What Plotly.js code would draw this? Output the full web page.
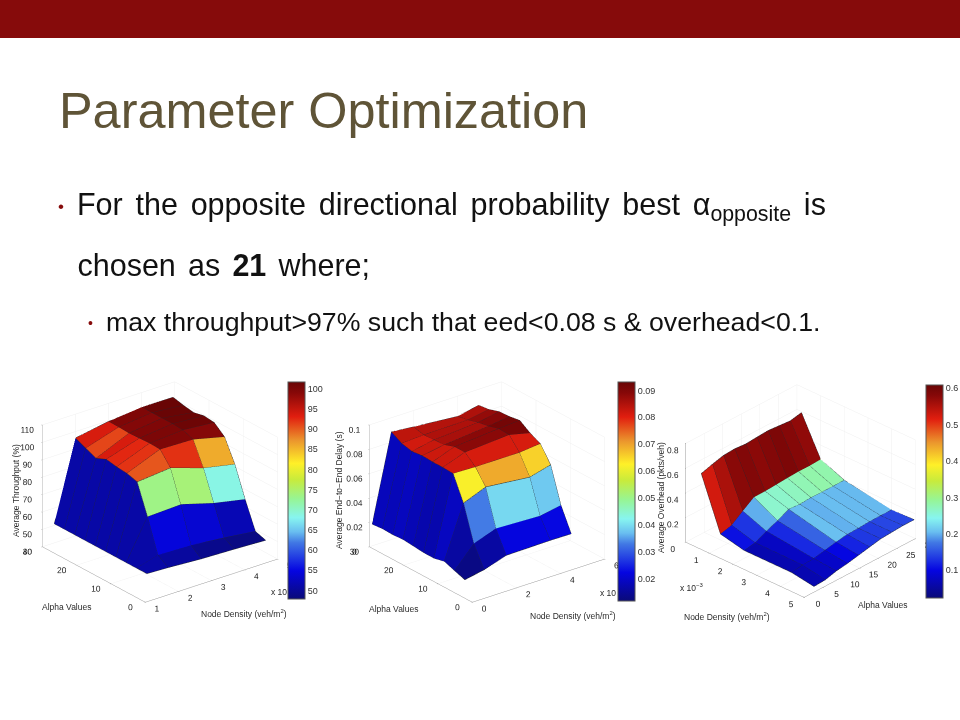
<!DOCTYPE html>
<html><head><meta charset="utf-8">
<script src="https://cdn.plot.ly/plotly-3.0.1.min.js"></script>
<style>html,body{margin:0;padding:0;background:#fff}#c{width:960px;height:720px}</style>
</head><body><div id="c"></div>
<script>
var alphaValues = [3,6,9,12,15,18,21,24,27,30];

var density1 = [1.36,2,3,4,4.95];
var throughput0 = [51,51,51,51,51,51,51,51,51,51];
var throughput1 = [50.5,54.5,73.4,90.2,91.9,92.5,93.6,91,93.6,96.3];
var throughput2 = [49.3,53.9,74.2,92,99.5,99.8,99.5,99.2,99.5,99.6];
var throughput3 = [48.7,52,68.7,85.7,99,101.2,101.6,101.6,101.6,101.6];
var throughput4 = [47.9,49.8,65,82,94.6,99.6,100.3,99,100,101.4];
var throughputRows = [throughput0,throughput1,throughput2,throughput3,throughput4];

var density2 = [0.13,1,2,4,4.95];
var delay0 = [.0131,.0161,.0192,.0172,.0172,.0181,.0189,.0183,.0186,.0178];
var delay1 = [.0162,.0331,.0618,.0815,.082,.082,.0825,.0815,.0835,.0884];
var delay2 = [.0221,.0396,.0691,.081,.0885,.0885,.0855,.085,.0845,.0866];
var delay3 = [.0226,.0381,.0654,.081,.091,.0915,.089,.0875,.085,.0834];
var delay4 = [.0224,.0413,.0699,.0827,.0869,.0927,.0913,.0908,.088,.0869];
var delayRows = [delay0,delay1,delay2,delay3,delay4];

var density3 = [0.19,1,2,4,4.95];
var overhead0 = [.525,.553,.577,.583,.575,.582,.588,.58,.572,.591];
var overhead1 = [.108,.132,.199,.263,.264,.27,.276,.281,.28,.285];
var overhead2 = [.0646,.0784,.124,.162,.207,.2,.206,.204,.204,.205];
var overhead3 = [.0652,.0763,.0821,.101,.12,.134,.137,.143,.144,.144];
var overhead4 = [.0358,.0416,.066,.08,.099,.118,.137,.143,.149,.149];
var overheadRows = [overhead0,overhead1,overhead2,overhead3,overhead4];

var jet = [[0,'rgb(10,10,120)'],[.13,'rgb(5,5,225)'],[.26,'rgb(65,120,228)'],[.31,'rgb(105,190,240)'],[.375,'rgb(135,245,240)'],[.46,'rgb(150,245,150)'],
  [.55,'rgb(200,235,60)'],[.625,'rgb(255,240,40)'],[.73,'rgb(235,150,45)'],[.84,'rgb(225,30,15)'],[.95,'rgb(135,8,8)'],[1,'rgb(105,5,5)']];

function mesh(xs, ys, rows, cmin, cmax, cb, sc, ln){
  var X=[],Y=[],Z=[],I=[],J=[],K=[],C=[],traces=[];
  var nx=xs.length, ny=ys.length;
  for(var a=0;a<nx;a++) for(var b=0;b<ny;b++){X.push(xs[a]);Y.push(ys[b]);Z.push(rows[a][b]);}
  for(a=0;a<nx-1;a++) for(b=0;b<ny-1;b++){
    var p=a*ny+b,q=p+1,r=(a+1)*ny+b,s=r+1;
    I.push(p,p);J.push(q,s);K.push(s,r);C.push(rows[a][b],rows[a][b]);
  }
  traces.push({type:'mesh3d',scene:sc,x:X,y:Y,z:Z,i:I,j:J,k:K,intensity:C,intensitymode:'cell',
    cmin:cmin,cmax:cmax,colorscale:jet,flatshading:true,hoverinfo:'skip',
    lighting:{ambient:1,diffuse:0,specular:0,roughness:1,fresnel:0},
    colorbar:cb});
  var lx=[],ly=[],lz=[];
  for(a=0;a<nx;a++){for(b=0;b<ny;b++){lx.push(xs[a]);ly.push(ys[b]);lz.push(rows[a][b]);}lx.push(null);ly.push(null);lz.push(null);}
  for(b=0;b<ny;b++){for(a=0;a<nx;a++){lx.push(xs[a]);ly.push(ys[b]);lz.push(rows[a][b]);}lx.push(null);ly.push(null);lz.push(null);}
  traces.push({type:'scatter3d',scene:sc,mode:'lines',x:lx,y:ly,z:lz,hoverinfo:'skip',showlegend:false,
    line:{color:ln,width:1}});
  return traces;
}
var tickF={family:'Liberation Sans, Arial, sans-serif',size:9,color:'#333'};
var tick3={family:'Liberation Sans, Arial, sans-serif',size:10,color:'#222'};
function cbar(px,top,bot,tv,tt){
  return {x:px/960,xanchor:'left',thickness:16.5,thicknessmode:'pixels',
    y:1-bot/720,yanchor:'bottom',len:(bot-top),lenmode:'pixels',xpad:0,ypad:0,
    tickvals:tv,ticktext:tt,ticks:'',tickfont:tickF,outlinecolor:'#555',outlinewidth:1,ticklabelposition:'outside'};
}
var data=[].concat(
 mesh(density1,alphaValues,throughputRows,47.9,101.65,cbar(288,382,599,[50,55,60,65,70,75,80,85,90,95,100],['50','55','60','65','70','75','80','85','90','95','100']),'scene','#23262e'),
 mesh(density2,alphaValues,delayRows,.0118,.0931,cbar(618,382,601,[.02,.03,.04,.05,.06,.07,.08,.09],['0.02','0.03','0.04','0.05','0.06','0.07','0.08','0.09']),'scene2','#23262e'),
 mesh(density3,alphaValues,overheadRows,.024,.609,cbar(926,385,598,[.1,.2,.3,.4,.5,.6],['0.1','0.2','0.3','0.4','0.5','0.6']),'scene3','#23262e')
);

function ax(range,tv){return {range:range,tickvals:tv,ticktext:tv.map(String),title:{text:''},tickfont:tick3,tickangle:0,
  showbackground:false,showspikes:false,zeroline:false,gridcolor:'#efefef',gridwidth:1,showline:true,linecolor:'#999',linewidth:1,ticks:'outside',ticklen:1,tickcolor:'#888',autorange:false};}
function dom(cx,cy,w,h){return {x:[(cx-w/2)/960,(cx+w/2)/960],y:[1-(cy+h/2)/720,1-(cy-h/2)/720]};}
function scene(d,xa,ya,za,eye,asp){return {domain:d,xaxis:xa,yaxis:ya,zaxis:za,
  aspectmode:'manual',aspectratio:asp,
  camera:{projection:{type:'orthographic'},center:{x:0,y:0,z:0},up:{x:0,y:0,z:1},eye:eye},bgcolor:'rgba(0,0,0,0)'};}

var lab='Liberation Sans, Arial, sans-serif';
function note(t,x,y,size,color,ang,anch){return {text:t,x:x/960,y:1-y/720,xref:'paper',yref:'paper',showarrow:false,
  font:{family:lab,size:size,color:color},xanchor:anch||'center',yanchor:'middle',textangle:ang||0};}
var ink='#2a2a2a';
var anns=[
 note('Parameter Optimization',57,110,50.4,'#5f5437',0,'left'),
 note('•',56,206,17,'#860b0b',0,'left'),
 note('For the opposite directional probability best α<sub>opposite</sub> is',90,206,30.5,'#111',0,'left'),
 note('chosen as <b>21</b> where;',80.5,265,30.5,'#111',0,'left'),
 note('•',86,323,14,'#860b0b',0,'left'),
 note('max throughput&gt;97% such that eed&lt;0.08 s &amp; overhead&lt;0.1.',104,322,26.7,'#111',0,'left'),
 note('Alpha Values',66,607,8.5,ink),
 note('Node Density (veh/m<sup>2</sup>)',244,613,8.5,ink),
 note('Average Throughput (%)',16,491,8.5,ink,-90),
 note('x 10',279,592,8.5,ink),
 note('Alpha Values',393,609,8.5,ink),
 note('Node Density (veh/m<sup>2</sup>)',573,615,8.5,ink),
 note('Average End\u2212to\u2212End Delay (s)',339,490,8.5,ink,-90),
 note('x 10',608,593,8.5,ink),
 note('Average Overhead (pkts/veh)',661,498,8.5,ink,-90),
 note('Node Density (veh/m<sup>2</sup>)',727,616,8.5,ink),
 note('Alpha Values',882,605,8.5,ink),
 note('x 10<sup>\u22123</sup>',692,587,8.5,ink)
];
var m=2, k=1.29, k3=1.25;
var layout={width:960,height:720,margin:{l:0,r:0,t:0,b:0},paper_bgcolor:'#fff',showlegend:false,
 shapes:[{type:'rect',xref:'paper',yref:'paper',x0:0,x1:1,y0:1-38/720,y1:1,fillcolor:'#860b0b',line:{width:0}}],
 annotations:anns,
 scene:scene(dom(160,491.5,320,260),ax([1,5],[1,2,3,4,5]),ax([0,30],[0,10,20,30]),ax([40,110],[40,50,60,70,80,90,100,110]),{x:-.557*m,y:-.716*m,z:.419*m},{x:k,y:k,z:.8*k}),
 scene2:scene(dom(487,491.7,320,260),ax([0,6],[0,2,4,6]),ax([0,30],[0,10,20,30]),ax([0,.1],[0,.02,.04,.06,.08,.1]),{x:-.557*m,y:-.716*m,z:.419*m},{x:k,y:k,z:.8*k}),
 scene3:scene(dom(801,491,320,260),ax([0,5],[0,1,2,3,4,5]),ax([0,30],[0,5,10,15,20,25,30]),ax([0,.8],[0,.2,.4,.6,.8]),{x:.595*m,y:-.633*m,z:.496*m},{x:k3,y:k3,z:.7*k3})
};
Plotly.newPlot('c',data,layout,{displayModeBar:false}).then(function(){
  document.querySelectorAll('.annotation-text').forEach(function(t){
    if(t.textContent.indexOf('For the opposite')===0) t.style.wordSpacing='4.3px';
    if(t.textContent.indexOf('chosen as')===0) t.style.wordSpacing='3.7px';
  });
});
</script></body></html>
